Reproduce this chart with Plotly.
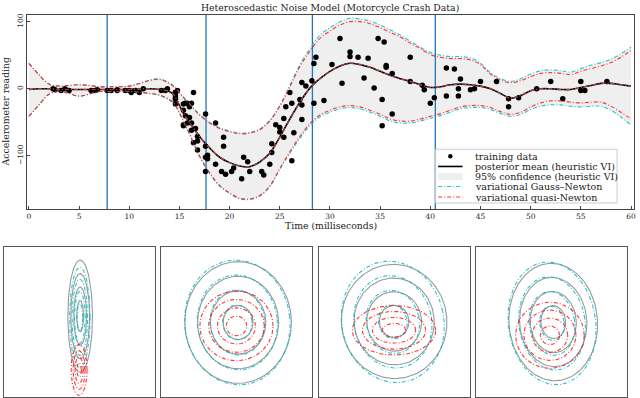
import numpy as np
import plotly.graph_objects as go

# motorcycle crash data: time (ms) and head acceleration (g)
times = [2.4, 2.6, 3.2, 3.6, 4.0, 6.2, 6.6, 6.8, 7.8, 8.2, 8.8, 8.8, 9.6, 10.0, 10.2, 10.6, 11.0, 11.4,
         13.2, 13.6, 13.8, 14.6, 14.6, 14.6, 14.6, 14.6, 14.6, 14.8, 15.4, 15.4, 15.4, 15.4, 15.6, 15.6,
         15.8, 15.8, 16.0, 16.0, 16.2, 16.2, 16.2, 16.4, 16.4, 16.6, 16.8, 16.8, 16.8, 17.6, 17.6, 17.6,
         17.6, 17.8, 17.8, 18.6, 18.6, 19.2, 19.4, 19.4, 19.6, 20.2, 20.4, 21.2, 21.4, 21.8, 22.0, 23.2,
         23.4, 24.0, 24.2, 24.2, 24.6, 25.0, 25.0, 25.4, 25.4, 25.6, 26.0, 26.2, 26.2, 26.4, 27.0, 27.2,
         27.2, 27.2, 27.6, 28.2, 28.4, 28.4, 28.6, 29.4, 30.2, 31.0, 31.2, 32.0, 32.0, 32.8, 33.4, 33.8,
         34.4, 34.8, 35.2, 35.2, 35.4, 35.6, 35.6, 36.2, 36.2, 38.0, 38.0, 39.2, 39.4, 40.0, 40.4, 41.6,
         41.6, 42.4, 42.8, 42.8, 43.0, 44.0, 44.4, 45.0, 46.6, 47.8, 47.8, 48.8, 50.6, 52.0, 53.2, 55.0,
         55.0, 55.4, 57.6]
accel = [0.0, -1.3, -2.7, 0.0, -2.7, -2.7, -2.7, -1.3, -2.7, -2.7, -1.3, -2.7, -2.7, -2.7, -5.4, -2.7,
         -5.4, 0.0, -2.7, -2.7, 0.0, -13.3, -5.4, -5.4, -9.3, -16.0, -22.8, -2.7, -22.8, -32.1, -53.5,
         -54.9, -40.2, -21.5, -21.5, -50.8, -42.9, -26.8, -21.5, -50.8, -61.7, -5.4, -80.4, -59.0, -71.0,
         -91.1, -77.7, -37.5, -85.6, -123.1, -101.9, -99.1, -104.4, -112.5, -50.8, -123.1, -85.6, -72.3,
         -127.2, -123.1, -117.9, -134.0, -101.9, -108.7, -123.1, -123.1, -128.5, -112.5, -95.1, -81.8,
         -53.5, -64.4, -57.6, -72.3, -44.3, -26.8, -5.4, -107.1, -21.5, -65.6, -16.0, -45.6, -24.2, 9.5,
         4.0, 12.0, -21.5, 37.5, 46.9, -17.4, 36.2, 75.0, 8.1, 54.9, 48.2, 46.9, 16.0, 45.6, 1.3, 75.0,
         -16.0, -54.9, 69.6, 34.8, 32.1, -37.5, 22.8, 46.9, 10.7, 5.4, -1.3, -21.5, -13.3, 30.8, -10.7,
         29.4, 0.0, -10.7, 14.7, -1.3, 0.0, 10.7, 10.7, -26.8, -14.7, -13.3, 0.0, 10.7, -14.7, -2.7, 10.7,
         -2.7, 10.7]

# posterior curves
grid_t = [0, 1, 2, 3, 4, 5, 6, 7, 8, 9, 10, 11, 12, 13, 14, 14.5, 15, 15.5, 16, 17, 18, 19, 20, 21, 22,
          23, 24, 25, 26, 27, 28, 29, 30, 31, 32, 33, 34, 35, 36, 37, 38, 39, 40, 41, 42, 43, 44, 45, 46,
          47, 48, 49, 50, 51, 52, 53, 54, 55, 56, 57, 58, 59, 60]
mean_vi = [-1, 0, 0, -1, -1, -1, -1, -1, -1, -1, -1, 0, 0, -1, -4, -10, -25, -39, -50, -71, -88, -102,
           -110, -115, -116, -109, -96, -72, -45, -20, 1, 15, 26, 34, 38, 36, 32, 26, 20, 15, 11, 6, 2, 3,
           6, 7, 6, 4, 0, -7, -14, -10, -3, 0, 0, -1, -1, 2, 5, 8, 8, 6, 4]
upper_vi = [38, 21, 7, 4, 5, 6, 5, 3, 3, 3, 4, 8, 13, 15, 9, 3, -5, -14, -22, -38, -50, -58, -63, -66,
            -65, -60, -47, -25, 5, 36, 60, 80, 91, 100, 105, 104, 101, 95, 88, 80, 71, 62, 54, 50, 48, 48,
            46, 38, 24, 15, 11, 15, 22, 27, 28, 27, 25, 30, 35, 39, 44, 52, 62]
lower_vi = [-41, -24, -8, -4, -7, -11, -8, -4, -4, -4, -4, -5, -7, -10, -17, -23, -37, -52, -68, -101,
            -126, -145, -156, -164, -165, -160, -146, -120, -96, -74, -55, -42, -35, -30, -28, -30, -35,
            -41, -48, -51, -51, -48, -44, -40, -35, -30, -28, -28, -31, -37, -41, -38, -31, -26, -24, -24,
            -26, -27, -26, -26, -32, -42, -54]
upper_qn = [38, 21, 7, 4, 5, 6, 5, 3, 3, 3, 4, 8, 12, 14, 8, 2, -6, -15, -23, -39, -51, -59, -64, -67,
            -66, -61, -48, -26, 3, 33, 56, 75, 86, 95, 100, 100, 97, 91, 84, 77, 68, 60, 51, 47, 45, 45,
            43, 36, 22, 13, 9, 12, 18, 23, 24, 23, 21, 26, 30, 34, 39, 47, 57]
lower_qn = [-41, -24, -8, -4, -7, -11, -8, -4, -4, -4, -4, -5, -7, -9, -16, -22, -36, -51, -67, -100,
            -125, -144, -155, -163, -164, -159, -145, -119, -94, -71, -52, -39, -32, -27, -25, -27, -32,
            -38, -45, -48, -48, -45, -41, -37, -32, -27, -25, -25, -28, -34, -38, -35, -27, -21, -18, -18,
            -20, -21, -20, -20, -26, -35, -45]
split_t = [7.8, 17.65, 28.25, 40.5]

# bottom panels: gaussian contours (centre, outer semi-axes, tilt in degrees)
levels = [1.0, 0.76, 0.52, 0.28]
vi_cx = [0.506, 0.509, 0.501, 0.513]
vi_cy = [0.538, 0.496, 0.503, 0.499]
vi_rx = [0.082, 0.354, 0.349, 0.294]
vi_ry = [0.373, 0.405, 0.380, 0.391]
vi_tilt = [0, 0, 5, 4]
gn_cx = [0.504, 0.504, 0.492, 0.505]
gn_cy = [0.530, 0.496, 0.500, 0.490]
gn_rx = [0.068, 0.350, 0.338, 0.290]
gn_ry = [0.333, 0.416, 0.407, 0.410]
gn_tilt = [0, 6, 12, 8]
qn_cx = [0.499, 0.498, 0.500, 0.491]
qn_cy = [0.180, 0.473, 0.444, 0.411]
qn_rx = [0.053, 0.243, 0.276, 0.228]
qn_ry = [0.169, 0.232, 0.165, 0.220]
qn_tilt = [0, 0, 0, 0]

W, H = 640, 398
SERIF = "DejaVu Serif"
CYAN = "rgba(0,190,200,0.85)"
RED = "rgba(255,20,20,0.85)"
DASHDOT = "4px,2px,1px,2px"


def px(x):
    return x / W


def py(y):
    return 1 - y / H


def ellipse(cx, cy, rx, ry, tilt, s):
    a = np.linspace(0, 2 * np.pi, 120)
    th = np.radians(tilt)
    u = s * rx * np.cos(a)
    v = s * ry * np.sin(a)
    return cx + u * np.cos(th) - v * np.sin(th), cy + u * np.sin(th) + v * np.cos(th)


def label(x, y, text, size=9.3, angle=0, anchor="center"):
    fig.add_annotation(x=px(x), y=py(y), xref="paper", yref="paper", showarrow=False, text=text,
                       textangle=angle, xanchor=anchor, yanchor="middle",
                       font=dict(family=SERIF, size=size, color="#222"))


fig = go.Figure()

# confidence band
fig.add_trace(go.Scatter(x=grid_t, y=upper_vi, mode="lines", line=dict(width=0, shape="spline"),
                         showlegend=False, hoverinfo="skip"))
fig.add_trace(go.Scatter(x=grid_t, y=lower_vi, mode="lines", line=dict(width=0, shape="spline"),
                         fill="tonexty", fillcolor="#efefef", showlegend=False, hoverinfo="skip"))

for t in split_t:
    fig.add_trace(go.Scatter(x=[t, t], y=[-179, 110], mode="lines",
                             line=dict(color="#1f77b4", width=1.3), showlegend=False))

fig.add_trace(go.Scatter(x=times, y=accel, mode="markers",
                         marker=dict(color="black", size=5.5), showlegend=False))
fig.add_trace(go.Scatter(x=grid_t, y=mean_vi, mode="lines",
                         line=dict(color="black", width=1.6, shape="spline"), showlegend=False))
for ys in (upper_vi, lower_vi, mean_vi):
    fig.add_trace(go.Scatter(x=grid_t, y=ys, mode="lines",
                             line=dict(color=CYAN, width=1.1, dash=DASHDOT, shape="spline"),
                             showlegend=False))
for ys in (upper_qn, lower_qn, mean_vi):
    fig.add_trace(go.Scatter(x=grid_t, y=ys, mode="lines",
                             line=dict(color=RED, width=1.1, dash=DASHDOT, shape="spline"),
                             showlegend=False))

# bottom panels
for i in range(4):
    ax = "x%d" % (i + 2)
    ay = "y%d" % (i + 2)
    for s in levels:
        ex, ey = ellipse(vi_cx[i], vi_cy[i], vi_rx[i], vi_ry[i], vi_tilt[i], s)
        fig.add_trace(go.Scatter(x=ex, y=ey, mode="lines", xaxis=ax, yaxis=ay,
                                 line=dict(color="#999999", width=1.1), showlegend=False))
    for s in levels:
        ex, ey = ellipse(gn_cx[i], gn_cy[i], gn_rx[i], gn_ry[i], gn_tilt[i], s)
        fig.add_trace(go.Scatter(x=ex, y=ey, mode="lines", xaxis=ax, yaxis=ay,
                                 line=dict(color=CYAN, width=1.1, dash=DASHDOT), showlegend=False))
    for s in levels:
        ex, ey = ellipse(qn_cx[i], qn_cy[i], qn_rx[i], qn_ry[i], qn_tilt[i], s)
        fig.add_trace(go.Scatter(x=ex, y=ey, mode="lines", xaxis=ax, yaxis=ay,
                                 line=dict(color=RED, width=1.1, dash=DASHDOT), showlegend=False))

tick_font = dict(family=SERIF, size=7.5, color="#222")
fig.update_layout(
    width=W, height=H, margin=dict(l=0, r=0, t=0, b=0),
    paper_bgcolor="white", plot_bgcolor="white",
    xaxis=dict(domain=[px(27), px(636)], range=[-0.2, 60.3], tickvals=list(range(0, 61, 5)),
               ticks="inside", ticklen=3, tickcolor="#444", showline=True, mirror=True,
               linecolor="#444", linewidth=1, showgrid=False, zeroline=False, tickfont=tick_font),
    yaxis=dict(domain=[py(208), py(13)], range=[-179, 110], tickvals=[-100, 0, 100],
               ticktext=["\u2212100", "0", "100"], tickangle=-90,
               ticks="inside", ticklen=3, tickcolor="#444", showline=True, mirror=True,
               linecolor="#444", linewidth=1, showgrid=False, zeroline=False, tickfont=tick_font),
)
panel_x = [(4, 155), (162, 313), (319.5, 471), (477.5, 628.5)]
for i, (x0, x1) in enumerate(panel_x):
    common = dict(range=[0, 1], showticklabels=False, ticks="", showgrid=False, zeroline=False,
                  showline=True, mirror=True, linecolor="#555", linewidth=1.2)
    fig.update_layout({
        "xaxis%d" % (i + 2): dict(domain=[px(x0), px(x1)], anchor="y%d" % (i + 2), **common),
        "yaxis%d" % (i + 2): dict(domain=[py(397), py(246)], anchor="x%d" % (i + 2), **common),
    })

# title and axis titles
label(331, 6, "Heteroscedastic Noise Model (Motorcycle Crash Data)")
label(332, 225, "Time (milliseconds)")
label(5, 110, "Accelerometer reading", angle=-90)

# legend drawn by hand to keep the tight matplotlib spacing
fig.add_shape(type="rect", xref="paper", yref="paper", x0=px(437), x1=px(619), y0=py(202), y1=py(148),
              line=dict(color="#cccccc", width=1), fillcolor="rgba(255,255,255,0.85)")
rows = [155, 165.3, 175.5, 185.5, 196]
labels = ["training data", "posterior mean (heuristic VI)", "95% confidence (heuristic VI)",
          "variational Gauss\u2013Newton", "variational quasi-Newton"]
fig.add_shape(type="circle", xref="paper", yref="paper", x0=px(449.5), x1=px(454), y0=py(rows[0] + 2.2),
              y1=py(rows[0] - 2.2), line=dict(width=0), fillcolor="black")
fig.add_shape(type="line", xref="paper", yref="paper", x0=px(439.5), x1=px(464), y0=py(rows[1]),
              y1=py(rows[1]), line=dict(color="black", width=1.6))
fig.add_shape(type="rect", xref="paper", yref="paper", x0=px(439.5), x1=px(464), y0=py(rows[2] + 3.5),
              y1=py(rows[2] - 3.5), line=dict(width=0), fillcolor="#efefef")
fig.add_shape(type="line", xref="paper", yref="paper", x0=px(439.5), x1=px(464), y0=py(rows[3]),
              y1=py(rows[3]), line=dict(color=CYAN, width=1.1, dash=DASHDOT))
fig.add_shape(type="line", xref="paper", yref="paper", x0=px(439.5), x1=px(464), y0=py(rows[4]),
              y1=py(rows[4]), line=dict(color=RED, width=1.1, dash=DASHDOT))
for r, lab in zip(rows, labels):
    label(474, r, lab, size=9.5, anchor="left")

# the page body has a default 8px margin; drop it so the figure sits at the window corner
fig.write_html("out.html", config={"displayModeBar": False},
               post_script="document.body.style.margin='0';")
